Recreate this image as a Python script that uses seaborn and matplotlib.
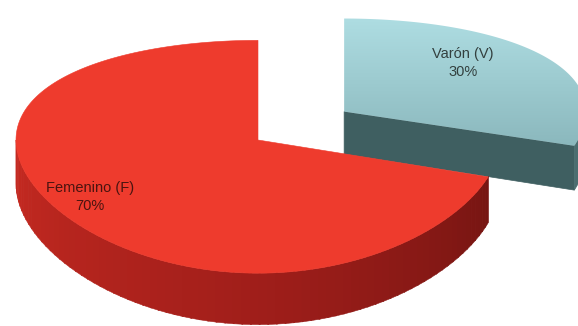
import numpy as np
import matplotlib
matplotlib.use("Agg")
import matplotlib.pyplot as plt
import seaborn as sns
from matplotlib.patches import Polygon
from matplotlib.colors import to_rgb

# ---- data ----
categories = ["Varón (V)", "Femenino (F)"]
values = [30, 70]
explode = [0.44, 0.0]
top_colors = ["#9ECBD1", "#EE3B2D"]
label_colors = ["#33403F", "#4A1410"]

sns.set_style("white")
plt.rcParams["font.family"] = ["Liberation Sans", "DejaVu Sans"]

fig = plt.figure(figsize=(5.78, 3.26), dpi=100)
ax = fig.add_axes([0, 0, 1, 1])
ax.set_xlim(0, 578)
ax.set_ylim(326, 0)
ax.axis("off")

# projection parameters (pixel space)
CX, CY, RX, RY, PX, PY, D = 258, 140, 242, 114, 0.0, 0.144, 44


def proj(u, v, z=0.0):
    u = np.atleast_1d(np.asarray(u, float))
    v = np.atleast_1d(np.asarray(v, float))
    kx = 1 / (1 + PX * v)
    ky = 1 / (1 + PY * v)
    return np.column_stack([CX + RX * u * kx, CY - RY * v * ky + D * z * ky])


def lerp_color(c1, c2, t):
    a, b = np.array(to_rgb(c1)), np.array(to_rgb(c2))
    return tuple(a + (b - a) * t)


total = float(sum(values))
start = 90.0
wedges = []
for cat, val, ex in zip(categories, values, explode):
    sweep = 360.0 * val / total
    a_start, a_end = start, start - sweep
    mid = np.radians((a_start + a_end) / 2)
    ou, ov = ex * np.cos(mid), ex * np.sin(mid)
    wedges.append((a_start, a_end, ou, ov))
    start = a_end

# ---------- Varón (exploded, behind) ----------
a_s, a_e, ou, ov = wedges[0]
# front radial face at a_end
r = np.array([0, 1])
ue = ou + r * np.cos(np.radians(a_e))
ve = ov + r * np.sin(np.radians(a_e))
face = np.vstack([proj(ue, ve, 0), proj(ue[::-1], ve[::-1], 1)])
ax.add_patch(Polygon(face, closed=True, fc="#3F5F61", ec="#3F5F61", lw=0.5, zorder=1))
# outer visible arc (a_end .. 0)
th = np.radians(np.linspace(a_e, 0, 30))
uo, vo = ou + np.cos(th), ov + np.sin(th)
side = np.vstack([proj(uo, vo, 0), proj(uo[::-1], vo[::-1], 1)])
ax.add_patch(Polygon(side, closed=True, fc="#4B6E70", ec="#4B6E70", lw=0.5, zorder=1))
# top with gradient
th = np.radians(np.linspace(a_e, a_s, 120))
top = np.vstack([proj(ou, ov), proj(ou + np.cos(th), ov + np.sin(th))])
poly = Polygon(top, closed=True, fc="none", ec="none", zorder=2)
ax.add_patch(poly)
grad = np.linspace(0, 1, 200)
cols = np.array([lerp_color("#AEDDE2", "#8BB8BD", g) for g in grad])
img = np.repeat(cols[:, None, :], 2, axis=1)
ymin, ymax = top[:, 1].min(), top[:, 1].max()
xmin, xmax = top[:, 0].min(), top[:, 0].max()
im = ax.imshow(img, extent=[xmin, xmax, ymax, ymin], aspect="auto", zorder=2,
               interpolation="bilinear")
im.set_clip_path(poly)
ax.set_xlim(0, 578)
ax.set_ylim(326, 0)

# ---------- Femenino (front) ----------
a_s, a_e, ou, ov = wedges[1]
angs = np.linspace(-180, a_s, 80)
for i in range(len(angs) - 1):
    t0, t1 = np.radians(angs[i]), np.radians(angs[i + 1] + 0.3)
    u = ou + np.cos([t0, t1])
    v = ov + np.sin([t0, t1])
    q = np.vstack([proj(u, v, 0), proj(u[::-1], v[::-1], 1)])
    t = (angs[i] + 180) / (a_s + 180)
    if t < 0.55:
        c = lerp_color("#C62A21", "#A01E1A", t / 0.55)
    else:
        c = lerp_color("#A01E1A", "#761512", (t - 0.55) / 0.45)
    ax.add_patch(Polygon(q, closed=True, fc=c, ec=c, lw=0.4, zorder=3))
# top
th = np.radians(np.linspace(a_e, a_s, 240))
top = np.vstack([proj(ou, ov), proj(ou + np.cos(th), ov + np.sin(th))])
ax.add_patch(Polygon(top, closed=True, fc=top_colors[1], ec=top_colors[1], lw=0.4, zorder=4))

# ---------- labels ----------
label_pos = [(463, 63), (90, 197)]
for cat, val, (lx, ly), lc in zip(categories, values, label_pos, label_colors):
    ax.text(lx, ly, f"{cat}\n{val}%", ha="center", va="center", fontsize=10.5,
            color=lc, linespacing=1.3, zorder=6)

fig.savefig("out.png", dpi=100)
